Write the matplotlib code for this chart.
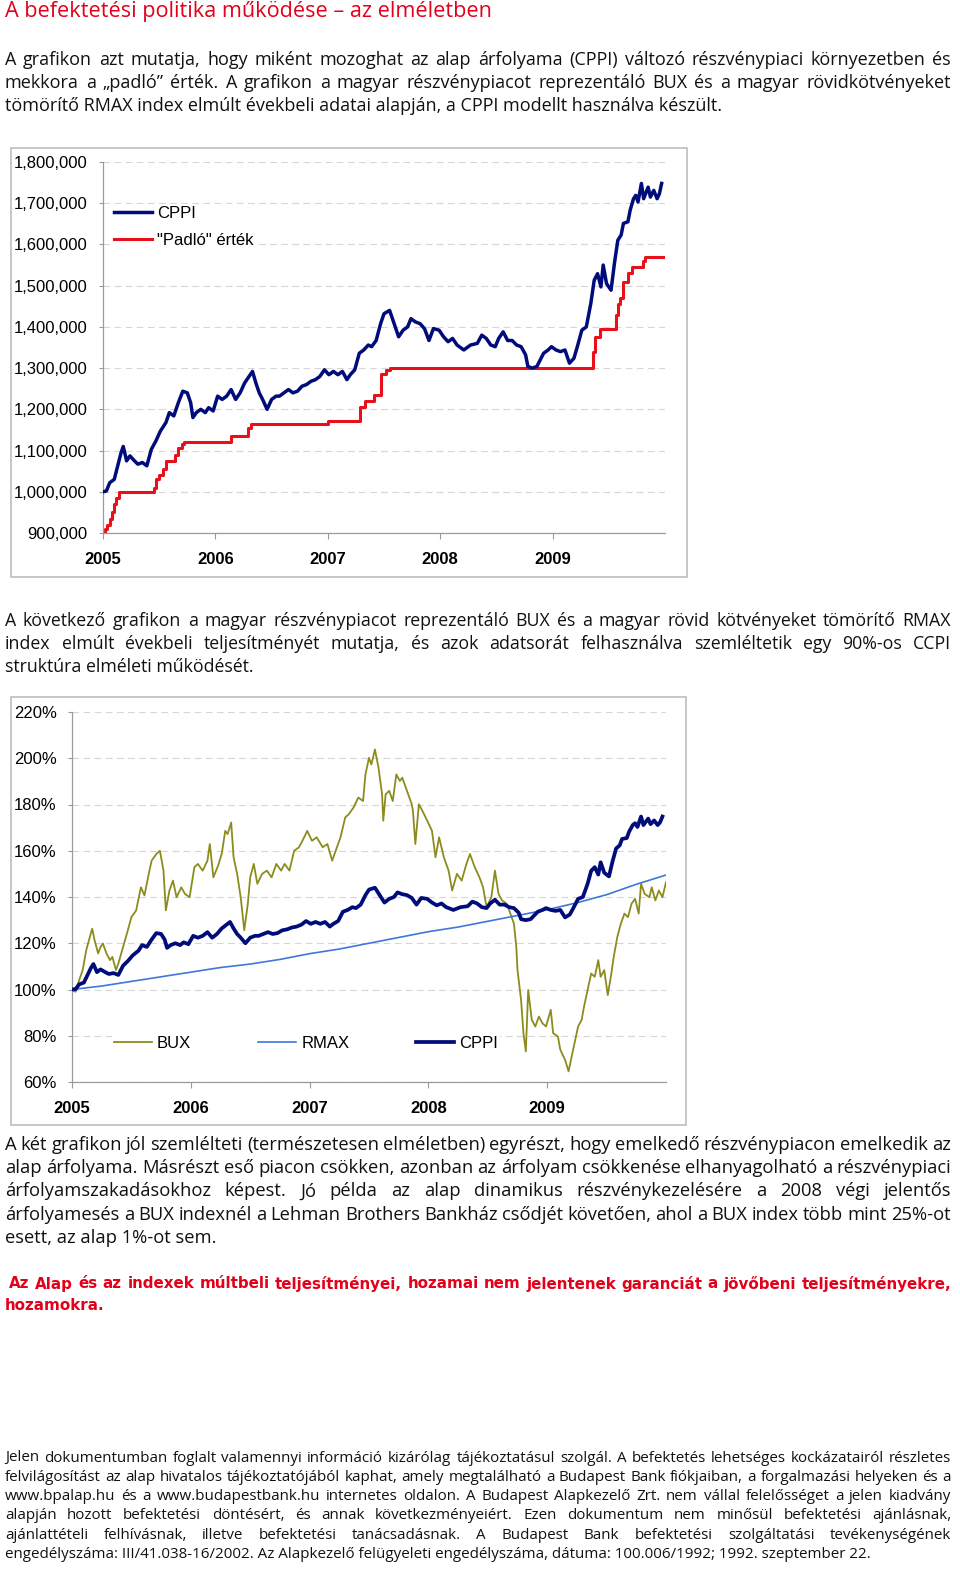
import matplotlib
matplotlib.use("Agg")
import matplotlib.pyplot as plt
from matplotlib.patches import Rectangle
from matplotlib.ticker import FuncFormatter, MultipleLocator

W, H = 960, 1576
BODY_FONT = "Open Sans"
CHART_FONT = "Liberation Sans"
RED = "#E2001A"
NAVY = "#000C7A"
FLOOR_RED = "#E8101A"
OLIVE = "#8C8C1E"
RMAX_BLUE = "#3F77DC"

# ---- chart 1: CPPI value and floor ("padló"), in thousands ----
cppi = [
    (2005.00, 1000), (2005.03, 1002), (2005.06, 1022), (2005.10, 1030), (2005.13, 1062),
    (2005.16, 1094), (2005.18, 1110), (2005.21, 1075), (2005.24, 1087), (2005.28, 1075),
    (2005.31, 1067), (2005.35, 1071), (2005.39, 1063), (2005.43, 1103), (2005.47, 1123),
    (2005.51, 1147), (2005.56, 1168), (2005.59, 1192), (2005.63, 1184), (2005.67, 1216),
    (2005.71, 1244), (2005.75, 1240), (2005.78, 1216), (2005.80, 1180), (2005.83, 1192),
    (2005.87, 1200), (2005.91, 1192), (2005.94, 1204), (2005.98, 1196), (2006.02, 1232),
    (2006.06, 1224), (2006.10, 1232), (2006.14, 1248), (2006.18, 1224), (2006.22, 1240),
    (2006.26, 1264), (2006.30, 1280), (2006.33, 1292), (2006.36, 1264), (2006.39, 1240),
    (2006.42, 1224), (2006.46, 1200), (2006.50, 1224), (2006.54, 1232), (2006.57, 1232),
    (2006.61, 1240), (2006.65, 1248), (2006.69, 1240), (2006.73, 1244), (2006.77, 1256),
    (2006.81, 1260), (2006.85, 1268), (2006.89, 1272), (2006.93, 1280), (2006.97, 1296),
    (2007.01, 1284), (2007.05, 1292), (2007.09, 1284), (2007.13, 1292), (2007.17, 1272),
    (2007.20, 1284), (2007.24, 1296), (2007.28, 1336), (2007.32, 1344), (2007.36, 1356),
    (2007.39, 1352), (2007.43, 1367), (2007.47, 1408), (2007.50, 1432), (2007.55, 1440),
    (2007.59, 1408), (2007.63, 1376), (2007.67, 1392), (2007.71, 1400), (2007.74, 1420),
    (2007.78, 1412), (2007.82, 1408), (2007.86, 1396), (2007.90, 1367), (2007.94, 1396),
    (2007.99, 1392), (2008.03, 1376), (2008.07, 1364), (2008.11, 1372), (2008.15, 1356),
    (2008.21, 1344), (2008.27, 1356), (2008.33, 1360), (2008.37, 1380), (2008.41, 1372),
    (2008.45, 1356), (2008.49, 1352), (2008.52, 1372), (2008.56, 1388), (2008.60, 1367),
    (2008.64, 1367), (2008.68, 1356), (2008.72, 1352), (2008.76, 1332), (2008.78, 1304),
    (2008.82, 1300), (2008.86, 1304), (2008.89, 1320), (2008.92, 1336), (2008.96, 1344),
    (2008.99, 1352), (2009.03, 1344), (2009.07, 1340), (2009.11, 1344), (2009.15, 1312),
    (2009.19, 1324), (2009.22, 1352), (2009.26, 1392), (2009.30, 1400), (2009.34, 1457),
    (2009.37, 1513), (2009.40, 1529), (2009.43, 1497), (2009.45, 1550), (2009.48, 1505),
    (2009.52, 1489), (2009.55, 1554), (2009.58, 1610), (2009.61, 1623), (2009.63, 1651),
    (2009.67, 1655), (2009.69, 1683), (2009.72, 1711), (2009.74, 1719), (2009.76, 1703),
    (2009.79, 1748), (2009.81, 1711), (2009.85, 1739), (2009.87, 1715), (2009.90, 1731),
    (2009.93, 1711), (2009.95, 1723), (2009.97, 1748),
]

floor = [
    (2005.00, 900), (2005.02, 910), (2005.04, 920), (2005.06, 935), (2005.08, 950),
    (2005.10, 970), (2005.12, 985), (2005.14, 1000), (2005.45, 1010), (2005.47, 1030),
    (2005.50, 1040), (2005.53, 1055), (2005.56, 1075), (2005.64, 1090), (2005.67, 1105),
    (2005.70, 1115), (2005.72, 1120), (2006.14, 1135), (2006.29, 1155), (2006.32, 1165),
    (2007.00, 1172), (2007.29, 1205), (2007.33, 1220), (2007.41, 1235), (2007.47, 1285),
    (2007.52, 1295), (2007.55, 1300), (2009.36, 1340), (2009.38, 1375), (2009.42, 1395),
    (2009.56, 1430), (2009.58, 1455), (2009.60, 1470), (2009.63, 1510), (2009.67, 1530),
    (2009.71, 1545), (2009.80, 1560), (2009.82, 1570), (2009.98, 1570),
]

# ---- chart 2: BUX and RMAX indices, in % of start ----
bux = [
    (2005.00, 100), (2005.03, 99), (2005.06, 104), (2005.09, 108.4), (2005.12, 117),
    (2005.15, 122.7), (2005.17, 126.3), (2005.19, 121.3), (2005.22, 115.6), (2005.24, 118.4),
    (2005.26, 119.9), (2005.29, 115.6), (2005.32, 112.7), (2005.34, 114.1), (2005.37, 108.4),
    (2005.39, 111.2), (2005.43, 118.4), (2005.47, 125.6), (2005.50, 131.3), (2005.54, 134.2),
    (2005.58, 144.2), (2005.61, 140.7), (2005.64, 148.5), (2005.67, 155.7), (2005.71, 158.6),
    (2005.74, 160), (2005.77, 151.4), (2005.79, 134.2), (2005.82, 142.8), (2005.85, 147.1),
    (2005.88, 139.9), (2005.92, 144.2), (2005.95, 141.4), (2005.99, 139.9), (2006.03, 152.9),
    (2006.06, 154.3), (2006.10, 151.4), (2006.14, 155.7), (2006.16, 162.9), (2006.19, 148.5),
    (2006.23, 153.6), (2006.26, 158.6), (2006.29, 168.6), (2006.31, 167.2), (2006.34, 172.2),
    (2006.36, 157.2), (2006.39, 150), (2006.42, 139.9), (2006.45, 125.6), (2006.48, 137.1),
    (2006.50, 148.5), (2006.53, 154.3), (2006.56, 145.7), (2006.60, 150), (2006.64, 151.4),
    (2006.68, 148.5), (2006.72, 154.3), (2006.76, 151.4), (2006.79, 154.3), (2006.83, 151.4),
    (2006.87, 160), (2006.91, 161.5), (2006.94, 164.3), (2006.98, 168.6), (2007.02, 164.3),
    (2007.06, 165.8), (2007.11, 161.5), (2007.15, 162.9), (2007.19, 155.7), (2007.22, 160),
    (2007.26, 165.8), (2007.30, 174.4), (2007.33, 175.8), (2007.37, 178.7), (2007.41, 183),
    (2007.45, 181.5), (2007.47, 193), (2007.50, 200.2), (2007.52, 197.3), (2007.55, 203.8),
    (2007.58, 195.9), (2007.61, 184.4), (2007.62, 173), (2007.64, 184.4), (2007.67, 185.9),
    (2007.70, 181.5), (2007.73, 193), (2007.76, 190.2), (2007.78, 191.6), (2007.82, 185.9),
    (2007.86, 180.1), (2007.87, 177.2), (2007.89, 162.9), (2007.92, 180.1), (2007.95, 177.2),
    (2007.99, 173), (2008.03, 168.6), (2008.06, 157.2), (2008.09, 165.8), (2008.13, 157.2),
    (2008.17, 151.4), (2008.20, 142.8), (2008.24, 150), (2008.28, 147.1), (2008.32, 154.3),
    (2008.35, 158.6), (2008.39, 152.9), (2008.43, 148.5), (2008.46, 144.2), (2008.49, 135.6),
    (2008.53, 139.9), (2008.56, 151.4), (2008.59, 141.4), (2008.62, 138.5), (2008.66, 137.1),
    (2008.69, 132.8), (2008.72, 128.5), (2008.74, 118.4), (2008.75, 108.4), (2008.78, 95.5),
    (2008.80, 81.1), (2008.82, 73.2), (2008.84, 99.8), (2008.87, 86.9), (2008.90, 84),
    (2008.93, 88.3), (2008.96, 85.4), (2008.99, 84), (2009.03, 91.2), (2009.05, 81.1),
    (2009.09, 79.7), (2009.11, 74), (2009.15, 69.6), (2009.18, 64.6), (2009.20, 69.6),
    (2009.23, 76.8), (2009.26, 84), (2009.29, 86.9), (2009.31, 92.6), (2009.34, 99.8),
    (2009.37, 106.9), (2009.40, 105.5), (2009.43, 112.7), (2009.45, 105.5), (2009.48, 108.4),
    (2009.51, 97.6), (2009.54, 106.9), (2009.56, 114.1), (2009.59, 122.7), (2009.62, 128.5),
    (2009.65, 132.8), (2009.68, 131.3), (2009.71, 137.1), (2009.74, 139.2), (2009.77, 132.8),
    (2009.79, 145.7), (2009.82, 141.4), (2009.86, 139.9), (2009.88, 144.2), (2009.91, 138.5),
    (2009.94, 142.8), (2009.97, 139.9), (2010.00, 146.4),
]

rmax = [
    (2005.00, 100), (2005.25, 101.5), (2005.50, 103.5), (2005.75, 105.5), (2006.00, 107.5),
    (2006.25, 109.5), (2006.50, 111), (2006.75, 113), (2007.00, 115.5), (2007.25, 117.5),
    (2007.50, 120), (2007.75, 122.5), (2008.00, 125), (2008.25, 127), (2008.50, 129.5),
    (2008.75, 132), (2009.00, 134.5), (2009.25, 137.5), (2009.50, 141), (2009.75, 145.5),
    (2010.00, 149.5),
]

years = [2005, 2006, 2007, 2008, 2009]

title = "A befektetési politika működése – az elméletben"
para1 = [
    ("A grafikon azt mutatja, hogy miként mozoghat az alap árfolyama (CPPI) változó részvénypiaci környezetben és", True),
    ("mekkora a „padló” érték. A grafikon a magyar részvénypiacot reprezentáló BUX és a magyar rövidkötvényeket", True),
    ("tömörítő RMAX index elmúlt évekbeli adatai alapján, a CPPI modellt használva készült.", False),
]
para2 = [
    ("A következő grafikon a magyar részvénypiacot reprezentáló BUX és a magyar rövid kötvényeket tömörítő RMAX", True),
    ("index elmúlt évekbeli teljesítményét mutatja, és azok adatsorát felhasználva szemléltetik egy 90%-os CCPI", True),
    ("struktúra elméleti működését.", False),
]
para3 = [
    ("A két grafikon jól szemlélteti (természetesen elméletben) egyrészt, hogy emelkedő részvénypiacon emelkedik az", True),
    ("alap árfolyama. Másrészt eső piacon csökken, azonban az árfolyam csökkenése elhanyagolható a részvénypiaci", True),
    ("árfolyamszakadásokhoz képest. Jó példa az alap dinamikus részvénykezelésére a 2008 végi jelentős", True),
    ("árfolyamesés a BUX indexnél a Lehman Brothers Bankház csődjét követően, ahol a BUX index több mint 25%-ot", True),
    ("esett, az alap 1%-ot sem.", False),
]
warning = [
    ("Az Alap és az indexek múltbeli teljesítményei, hozamai nem jelentenek garanciát a jövőbeni teljesítményekre,", True),
    ("hozamokra.", False),
]
footer = [
    ("Jelen dokumentumban foglalt valamennyi információ kizárólag tájékoztatásul szolgál. A befektetés lehetséges kockázatairól részletes", True),
    ("felvilágosítást az alap hivatalos tájékoztatójából kaphat, amely megtalálható a Budapest Bank fiókjaiban, a forgalmazási helyeken és a", True),
    ("www.bpalap.hu és a www.budapestbank.hu internetes oldalon. A Budapest Alapkezelő Zrt. nem vállal felelősséget a jelen kiadvány", True),
    ("alapján hozott befektetési döntésért, és annak következményeiért. Ezen dokumentum nem minősül befektetési ajánlásnak,", True),
    ("ajánlattételi felhívásnak, illetve befektetési tanácsadásnak. A Budapest Bank befektetési szolgáltatási tevékenységének", True),
    ("engedélyszáma: III/41.038-16/2002. Az Alapkezelő felügyeleti engedélyszáma, dátuma: 100.006/1992; 1992. szeptember 22.", False),
]

fig = plt.figure(figsize=(W / 100, H / 100), dpi=100)
fig.patch.set_facecolor("white")
renderer = fig.canvas.get_renderer()


def fx(x):
    return x / W


def fy(y):
    return 1 - y / H


def text_width(s, **kw):
    t = fig.text(0, 0, s, **kw)
    w = t.get_window_extent(renderer).width
    t.remove()
    return w


def fit_size(lines, width, **kw):
    """Largest font size at which no justified line overflows `width` px."""
    best = None
    for s, just in lines:
        if not just:
            continue
        size = 12 * width / text_width(s, fontsize=12, **kw)
        best = size if best is None else min(best, size)
    return best


def text_line(s, y, justify, x0=5, x1=951, **kw):
    """Place one line of text; spread the words to x0..x1 when justify is set."""
    if not justify:
        fig.text(fx(x0), fy(y), s, ha="left", va="center", **kw)
        return
    words = s.split()
    arts = [fig.text(0, fy(y), w, ha="left", va="center", **kw) for w in words]
    widths = [a.get_window_extent(renderer).width for a in arts]
    gap = (x1 - x0 - sum(widths)) / (len(words) - 1)
    x = x0
    for a, w in zip(arts, widths):
        a.set_x(fx(x))
        x += w + gap


def paragraph(lines, y0, step, x0=5, x1=951, scale=1.0, **kw):
    size = fit_size(lines, x1 - x0, **kw) * scale
    for i, (s, just) in enumerate(lines):
        text_line(s, y0 + i * step, just, x0=x0, x1=x1, fontsize=size, **kw)
    return size


def chart_box(x0, y0, x1, y1):
    fig.add_artist(Rectangle((fx(x0), fy(y1)), (x1 - x0) / W, (y1 - y0) / H,
                             transform=fig.transFigure, fill=False,
                             ec="#BEBEBE", lw=1.2))


def style_axes(ax, ypad):
    for side in ("top", "right"):
        ax.spines[side].set_visible(False)
    for side in ("left", "bottom"):
        ax.spines[side].set_color("#9A9A9A")
        ax.spines[side].set_linewidth(0.9)
    ax.yaxis.grid(True, ls=(0, (6, 4)), color="#D6D6D6", lw=0.8)
    ax.set_axisbelow(True)
    ax.tick_params(axis="y", length=3, color="#9A9A9A", pad=ypad,
                   labelsize=12)
    ax.tick_params(axis="x", length=4, color="#9A9A9A", pad=10,
                   labelsize=12)
    ax.set_xlim(2005, 2010)
    ax.set_xticks(years)
    ax.set_xticklabels([str(y) for y in years], fontweight="bold",
                       family=CHART_FONT)
    for lab in ax.get_yticklabels():
        lab.set_family(CHART_FONT)


# ---- page text ----
title_size = 12 * 481 / text_width(title, fontsize=12, family=BODY_FONT)
fig.text(fx(5), fy(12), title, ha="left", va="center", color=RED,
         fontsize=title_size, family=BODY_FONT)
body = dict(family=BODY_FONT, color="#111111")
paragraph(para1, 60, 23, scale=0.965, **body)
paragraph(para2, 621, 23, scale=0.965, **body)
paragraph(para3, 1145, 23.2, **body)
warn_kw = dict(family="DejaVu Sans", fontweight="bold", color=RED)
warn_size = paragraph(warning[:1], 1284, 22, x0=9, **warn_kw)
text_line(warning[1][0], 1306, False, x0=5, fontsize=warn_size, **warn_kw)
paragraph(footer, 1458, 19.3, scale=0.99, **body)

# ---- chart 1 ----
chart_box(11, 148, 687, 577)
ax1 = fig.add_axes([fx(103), fy(533), (665 - 103) / W, (533 - 162) / H])
ct, cv = zip(*cppi)
ft, fv = zip(*floor)
ax1.plot(ct, [v * 1000 for v in cv], color=NAVY, lw=2.5, label="CPPI", zorder=3)
ax1.plot(ft, [v * 1000 for v in fv], color=FLOOR_RED, lw=2.2,
         drawstyle="steps-post", label='"Padló" érték', zorder=2)
ax1.set_ylim(900000, 1800000)
ax1.yaxis.set_major_locator(MultipleLocator(100000))
ax1.yaxis.set_major_formatter(FuncFormatter(lambda v, _: f"{v:,.0f}"))
style_axes(ax1, ypad=8)
ax1.legend(loc="upper left", bbox_to_anchor=(fx(112), fy(204)),
           bbox_transform=fig.transFigure, frameon=True, facecolor="white",
           edgecolor="none", framealpha=1, borderpad=0.1, borderaxespad=0,
           handlelength=2.3, handletextpad=0.3, labelspacing=0.72,
           prop=dict(family=CHART_FONT, size=12))

# ---- chart 2 ----
chart_box(11, 697, 686, 1125)
ax2 = fig.add_axes([fx(72), fy(1082), (666 - 72) / W, (1082 - 712) / H])
bt, bv = zip(*bux)
rt, rv = zip(*rmax)
ax2.plot(bt, bv, color=OLIVE, lw=1.3, label="BUX", zorder=2)
ax2.plot(rt, rv, color=RMAX_BLUE, lw=1.2, label="RMAX", zorder=3)
ax2.plot(ct, [v / 10 for v in cv], color=NAVY, lw=2.7, label="CPPI", zorder=4)
ax2.set_ylim(60, 220)
ax2.yaxis.set_major_locator(MultipleLocator(20))
ax2.yaxis.set_major_formatter(FuncFormatter(lambda v, _: f"{v:.0f}%"))
style_axes(ax2, ypad=8)
ax2.legend(loc="center left", bbox_to_anchor=(fx(112), fy(1043)),
           bbox_transform=fig.transFigure, ncol=3, frameon=True,
           facecolor="white", edgecolor="none", framealpha=1, borderpad=0.1,
           borderaxespad=0, handlelength=2.3, handletextpad=0.3,
           columnspacing=4.0, prop=dict(family=CHART_FONT, size=12))

fig.savefig("out.png", dpi=100, facecolor="white")
